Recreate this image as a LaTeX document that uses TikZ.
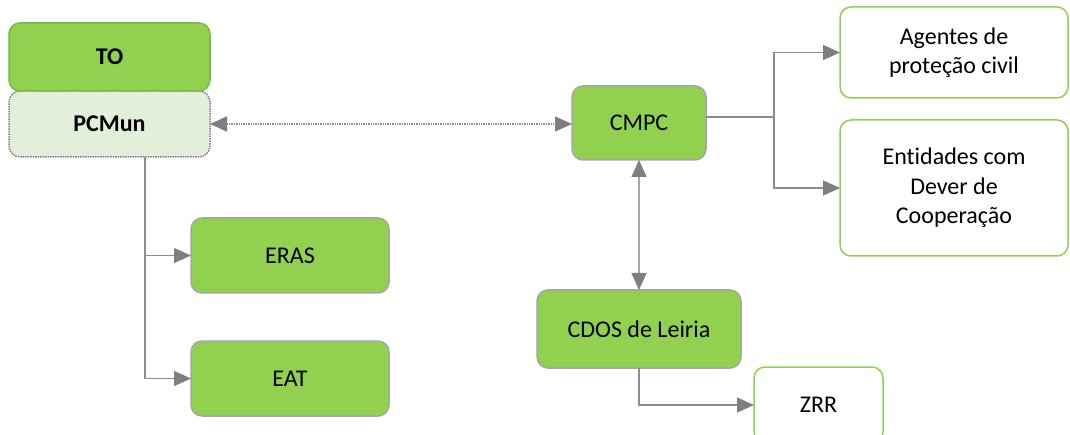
\documentclass[tikz,border=0pt]{standalone}
\usepackage{fontspec}
\setmainfont{Carlito}[RawFeature={-liga;-clig;-calt;-dlig}]
\usetikzlibrary{arrows.meta,calc}
\definecolor{leaf}{HTML}{92D050}
\definecolor{leafdark}{HTML}{7AB648}
\definecolor{paleleaf}{HTML}{E2EFDA}
\definecolor{boxgrey}{HTML}{A6A6A6}
\definecolor{linegrey}{HTML}{8C8C8C}
\definecolor{tipgrey}{HTML}{7F7F7F}
\tikzset{
  base/.style={rounded corners=11pt, inner sep=0pt, outer sep=0pt, align=center,
    font=\fontsize{24}{29.5}\selectfont, line width=1.5pt},
  greenbox/.style={base, fill=leaf, draw=boxgrey},
  whitebox/.style={base, fill=white, draw=leaf},
  link/.style={draw=linegrey, line width=1.4pt, -{Triangle[length=17pt,width=15pt,fill=tipgrey,color=tipgrey]}},
  twoway/.style={draw=linegrey, line width=1.4pt,
    {Triangle[length=17pt,width=15pt,fill=tipgrey,color=tipgrey]}-{Triangle[length=17pt,width=15pt,fill=tipgrey,color=tipgrey]}},
}
\begin{document}
\begin{tikzpicture}[x=1pt,y=-1pt]
\useasboundingbox (0,0) rectangle (1070,435);

% left column
\node[base, fill=paleleaf, draw=gray, densely dotted, minimum width=201pt, minimum height=66pt,
  font=\fontsize{24}{29}\selectfont\bfseries] (pcmun) at (109.5,124) {PCMun};
\node[base, fill=leaf, draw=leafdark, minimum width=201pt, minimum height=68pt,
  font=\fontsize{24}{29}\selectfont\bfseries] (to) at (109.5,57) {TO};
\node[greenbox, minimum width=198pt, minimum height=75pt] (eras) at (290,255.5) {ERAS};
\node[greenbox, minimum width=198pt, minimum height=75pt] (eat) at (290,378.5) {EAT};

% centre column
\node[greenbox, minimum width=134pt, minimum height=74pt] (cmpc) at (639,123) {CMPC};
\node[greenbox, minimum width=204pt, minimum height=78pt] (cdos) at (639,329) {CDOS de Leiria};
\node[whitebox, minimum width=129pt, minimum height=76pt] (zrr) at (818.5,405) {ZRR};

% right column
\node[whitebox, minimum width=228pt, minimum height=91pt] (agentes) at (954,52.5) {Agentes de\\proteção civil};
\node[whitebox, minimum width=228pt, minimum height=136pt] (entidades) at (954,188) {Entidades com\\Dever de\\Cooperação};

% connectors
\coordinate (pcfoot) at (145,157);
\draw[link] (pcfoot) |- (eras.west);
\draw[link] (pcfoot) |- (eat.west);
\draw[twoway, densely dotted] (pcmun.east) -- (pcmun.east -| cmpc.west);
\coordinate (cmout) at ($(cmpc.east)+(0,-6)$);
\coordinate (fork) at ($(cmout)+(68,0)$);
\draw[draw=linegrey, line width=1.4pt] (cmout) -- (fork);
\draw[link] (fork) |- (agentes.west);
\draw[link] (fork) |- (entidades.west);
\draw[twoway, draw=boxgrey] (cmpc.south) -- (cdos.north);
\draw[link] (cdos.south) |- (zrr.west);
\end{tikzpicture}
\end{document}
